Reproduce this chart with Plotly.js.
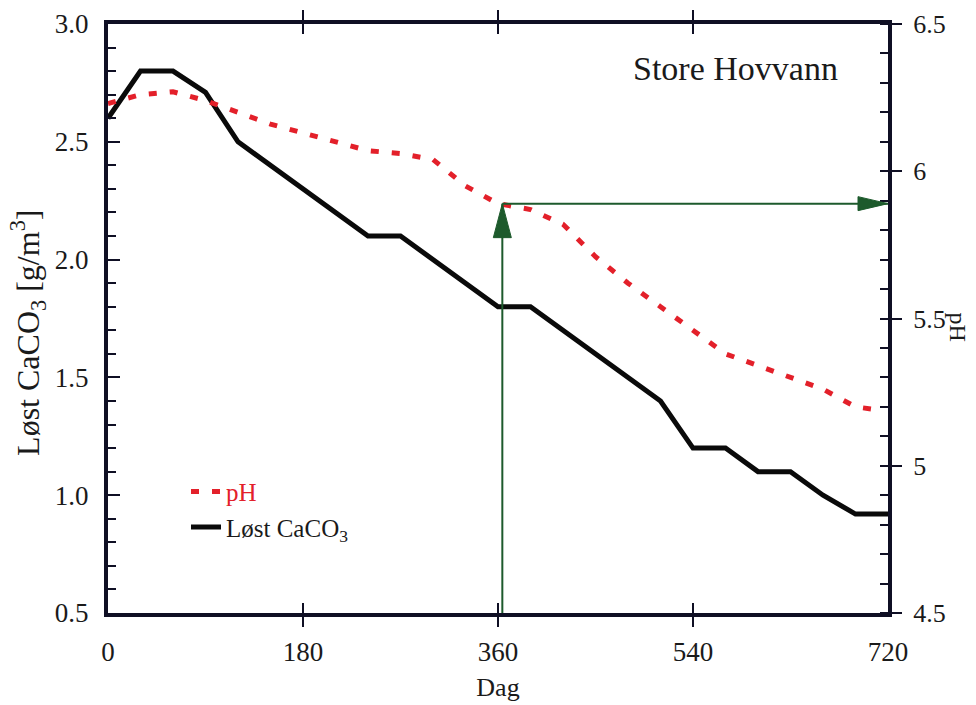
<!DOCTYPE html>
<html>
<head>
<meta charset="utf-8">
<script src="https://cdn.plot.ly/plotly-3.0.1.min.js"></script>
<style>html,body{margin:0;padding:0;background:#fff;}#chart{width:976px;height:705px;}</style>
</head>
<body>
<div id="chart"></div>
<script>
// Days
const caco3Days = [0, 30, 60, 90, 120, 150, 180, 210, 240, 270, 300, 330, 360, 390, 420, 450, 480, 510, 540, 570, 600, 630, 660, 690, 720];
// Løst CaCO3 [g/m3]
const caco3Values = [2.60, 2.80, 2.80, 2.71, 2.50, 2.40, 2.30, 2.20, 2.10, 2.10, 2.00, 1.90, 1.80, 1.80, 1.70, 1.60, 1.50, 1.40, 1.20, 1.20, 1.10, 1.10, 1.00, 0.92, 0.92];
// pH
const phDays = [0, 30, 60, 90, 120, 150, 180, 210, 240, 270, 300, 330, 360, 390, 420, 450, 480, 510, 540, 570, 600, 630, 660, 690, 710];
const phValues = [6.23, 6.26, 6.27, 6.24, 6.20, 6.16, 6.13, 6.10, 6.07, 6.06, 6.04, 5.95, 5.89, 5.87, 5.82, 5.71, 5.62, 5.54, 5.46, 5.38, 5.34, 5.30, 5.26, 5.20, 5.19];
// Arrow reading (day, pH)
const arrowDay = 364;
const arrowPH = 5.89;
const xTicks = [0, 180, 360, 540, 720];
const phTickVals = [4.5, 5, 5.5, 6, 6.5];
const phTickText = ['4.5', '5', '5.5', '6', '6.5'];

const FONT = '"Liberation Serif", "Times New Roman", serif';
const AX = '#0f0f24';
const GREEN = '#1d5a2c';
const TXT = '#1a1a1a';

const traces = [
  {x: phDays, y: phValues, yaxis: 'y2', mode: 'lines', name: '<span style="color:#e3202a">pH</span>',
   line: {color: '#e3202a', width: 5, dash: '8px,13px'}},
  {x: caco3Days, y: caco3Values, mode: 'lines', name: 'Løst CaCO<sub>3</sub>',
   line: {color: '#0a0a0a', width: 5}},
  {x: [arrowDay, arrowDay], y: [4.5, arrowPH], yaxis: 'y2', mode: 'lines', showlegend: false,
   line: {color: GREEN, width: 2}},
  {x: [arrowDay, 720], y: [arrowPH, arrowPH], yaxis: 'y2', mode: 'lines', showlegend: false,
   line: {color: GREEN, width: 2}}
];

const layout = {
  width: 976, height: 705,
  margin: {l: 108, r: 88, t: 24, b: 92},
  paper_bgcolor: '#fff', plot_bgcolor: '#fff',
  font: {family: FONT, size: 27, color: TXT},
  showlegend: true,
  legend: {x: 0.1, y: 0.245, xanchor: 'left', yanchor: 'top', bgcolor: 'rgba(0,0,0,0)',
           font: {family: FONT, size: 25, color: TXT}, tracegroupgap: 0},
  xaxis: {range: [0, 720], tickvals: xTicks, ticks: 'inside', ticklen: 10, tickwidth: 2, tickcolor: AX,
          showline: true, linewidth: 4, linecolor: AX, mirror: 'allticks', showgrid: false, zeroline: false,
          ticklabelstandoff: 12, tickfont: {family: FONT, size: 27, color: TXT},
          title: {text: 'Dag', font: {family: FONT, size: 26, color: TXT}, standoff: 12}},
  yaxis: {range: [0.5, 3.0], dtick: 0.5, tickformat: '.1f', ticks: 'inside', ticklen: 12, tickwidth: 2, tickcolor: AX,
          minor: {dtick: 0.1, ticks: 'inside', ticklen: 8, tickwidth: 2, tickcolor: AX, showgrid: false},
          showline: true, linewidth: 4, linecolor: AX, showgrid: false, zeroline: false,
          ticklabelstandoff: 10, tickfont: {family: FONT, size: 27, color: TXT}},
  yaxis2: {overlaying: 'y', side: 'right', range: [4.5, 6.5], tickvals: phTickVals, ticktext: phTickText,
           ticks: 'outside', ticklen: 10, tickwidth: 2, tickcolor: AX,
           minor: {dtick: 0.1, ticks: 'inside', ticklen: 8, tickwidth: 2, tickcolor: AX, showgrid: false},
           showline: true, linewidth: 4, linecolor: AX, showgrid: false, zeroline: false,
           ticklabelstandoff: 6, tickfont: {family: FONT, size: 26, color: TXT}},
  yaxis3: {overlaying: 'y', side: 'right', anchor: 'x', range: [4.5, 6.5], tickvals: phTickVals,
           ticks: 'inside', ticklen: 12, tickwidth: 2, tickcolor: AX, showticklabels: false,
           showline: false, showgrid: false, zeroline: false},
  annotations: [
    {text: 'Store Hovvann', xref: 'paper', yref: 'paper', x: 0.804, y: 0.925, xanchor: 'center', yanchor: 'middle',
     showarrow: false, font: {family: FONT, size: 34, color: TXT}},
    {text: 'Løst CaCO<sub>3</sub> [g/m<sup>3</sup>]', xref: 'paper', yref: 'paper', x: -0.103, y: 0.475,
     xanchor: 'center', yanchor: 'middle', textangle: -90, showarrow: false,
     font: {family: FONT, size: 32, color: TXT}},
    {text: 'pH', xref: 'paper', yref: 'paper', x: 1.09, y: 0.486, xanchor: 'center', yanchor: 'middle',
     showarrow: false, textangle: 90, font: {family: FONT, size: 24, color: TXT}, borderpad: 0}
  ],
  shapes: [
    {type: 'path', xref: 'x', yref: 'y2', xsizemode: 'pixel', ysizemode: 'pixel',
     xanchor: arrowDay, yanchor: arrowPH, path: 'M0,0 L-9,-34 L9,-34 Z',
     fillcolor: GREEN, line: {color: GREEN, width: 1}},
    {type: 'path', xref: 'x', yref: 'y2', xsizemode: 'pixel', ysizemode: 'pixel',
     xanchor: 720, yanchor: arrowPH, path: 'M0,0 L-30,-7 L-30,7 Z',
     fillcolor: GREEN, line: {color: GREEN, width: 1}}
  ]
};

Plotly.newPlot('chart', traces, layout, {displayModeBar: false, staticPlot: true});
</script>
</body>
</html>
